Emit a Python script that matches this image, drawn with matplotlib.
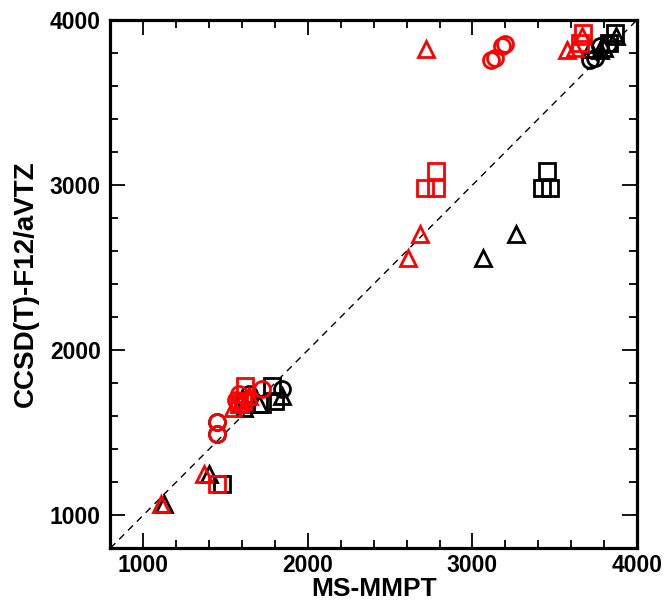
import matplotlib
matplotlib.use("Agg")
import matplotlib.pyplot as plt
from matplotlib.ticker import MultipleLocator

plt.rcParams['font.family'] = ['Liberation Sans', 'DejaVu Sans']
plt.rcParams['font.weight'] = 'bold'

# CCSD(T)-F12/aVTZ reference values (y) with MS-MMPT values: red and black sets
tri_y     = [1065, 1250, 2560, 2705, 3825, 3820, 3830, 3901, 1650, 1673, 1723]
tri_red   = [1110, 1370, 2610, 2680, 2715, 3573, 3623, 3664, 1545, 1590, 1640]
tri_black = [1125, 1400, 3065, 3265, 3714, 3775, 3800, 3870, 1610, 1700, 1842]

sq_y     = [1190, 2980, 2980, 3085, 3921, 3860, 1784, 1673, 1690]
sq_red   = [1450, 2710, 2780, 2780, 3674, 3655, 1620, 1580, 1605]
sq_black = [1480, 3420, 3470, 3455, 3866, 3830, 1782, 1721, 1802]

circ_y     = [1565, 1490, 3760, 3770, 3840, 3852, 1764, 1733, 1700]
circ_red   = [1445, 1445, 3110, 3135, 3180, 3195, 1721, 1579, 1565]
circ_black = [1450, 1450, 3714, 3745, 3775, 3826, 1842, 1640, 1620]

fig = plt.figure(figsize=(6.65, 6.03), dpi=100)
ax = fig.add_axes([0.166, 0.091, 0.792, 0.876])

ax.plot([800, 4000], [800, 4000], 'k--', lw=1.0, dashes=(5, 4))

kw = dict(ls='none', mfc='none', mew=2.0)
ax.plot(tri_black, tri_y, marker='^', mec='black', ms=11.5, **kw)
ax.plot(sq_black, sq_y, marker='s', mec='black', ms=11, **kw)
ax.plot(circ_black, circ_y, marker='o', mec='black', ms=11.5, **kw)
ax.plot(tri_red, tri_y, marker='^', mec='red', ms=11.5, **kw)
ax.plot(sq_red, sq_y, marker='s', mec='red', ms=11, **kw)
ax.plot(circ_red, circ_y, marker='o', mec='red', ms=11.5, **kw)

ax.set_xlim(800, 4000)
ax.set_ylim(800, 4000)
ax.xaxis.set_major_locator(MultipleLocator(1000))
ax.yaxis.set_major_locator(MultipleLocator(1000))
ax.xaxis.set_minor_locator(MultipleLocator(200))
ax.yaxis.set_minor_locator(MultipleLocator(200))
ax.tick_params(which='both', direction='in', top=True, right=True, width=1.3)
ax.tick_params(which='major', length=11, labelsize=16.5)
ax.tick_params(axis='x', which='major', pad=4)
ax.tick_params(axis='y', which='major', pad=7)
ax.tick_params(which='minor', length=6)
for lab in ax.get_xticklabels() + ax.get_yticklabels():
    lab.set_fontweight('bold')
for s in ax.spines.values():
    s.set_linewidth(2.3)

ax.set_xlabel('MS-MMPT', fontsize=19, fontweight='bold', labelpad=0)
ax.set_ylabel('CCSD(T)-F12/aVTZ', fontsize=20, fontweight='bold', labelpad=8)

fig.savefig('out.png', dpi=100)
